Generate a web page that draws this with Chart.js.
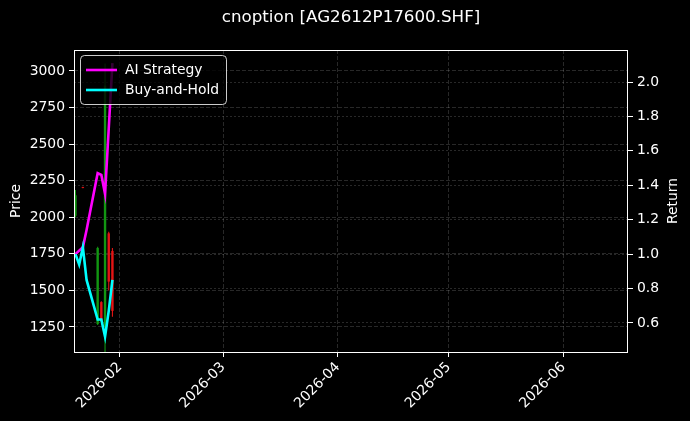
<!DOCTYPE html>
<html lang="en">
<head>
  <meta charset="UTF-8" />
  <title>cnoption [AG2612P17600.SHF]</title>
  <script src="https://cdn.jsdelivr.net/npm/chart.js"></script>
  <style>
    html, body { margin: 0; padding: 0; background: #000; }
    #chart { display: block; }
  </style>
</head>
<body>
  <canvas id="chart" width="690" height="421"></canvas>

  <script>
    // x values are day-of-year 2026 (Jan 1 = 1)
    const tradeDays  = [20, 21, 22, 23, 26, 27, 28, 29, 30];
    const aiStrategy = [1.00, 1.02, 1.04, 1.14, 1.47, 1.46, 1.35, 1.73, 2.11];
    const buyHold    = [1.00, 0.94, 1.04, 0.85, 0.62, 0.62, 0.52, 0.67, 0.85];

    const candleDays  = [20, 22, 26, 27, 28, 29, 30];
    const candleOpen  = [2010, 2206, 1270, 1420, 1250, 1890, 1770];
    const candleHigh  = [2186, 2208, 1798, 1425, 3050, 1900, 1790];
    const candleLow   = [2000, 2198, 1264, 1284, 1050, 1500, 1320];
    const candleClose = [2150, 2200, 1790, 1290, 2900, 1560, 1360];

    const monthTicks  = [32, 60, 91, 121, 152];
    const monthLabels = ['2026-02', '2026-03', '2026-04', '2026-05', '2026-06'];
    const priceTicks  = [1250, 1500, 1750, 2000, 2250, 2500, 2750, 3000];
    const returnTicks = [0.6, 0.8, 1.0, 1.2, 1.4, 1.6, 1.8, 2.0];

    const UP = '#129612', DOWN = '#e41414';
    const candleColors = candleDays.map((_, i) => candleClose[i] >= candleOpen[i] ? UP : DOWN);

    Chart.defaults.font.family = '"DejaVu Sans", sans-serif';
    Chart.defaults.font.size = 13.9;
    Chart.defaults.color = '#fff';

    const grid = {
      color: 'rgba(255,255,255,0.2)', lineWidth: 0.8, offset: false,
      tickColor: '#fff', tickLength: 5, tickWidth: 1
    };

    // title, right-axis label, frame and legend drawn like the original
    const decorations = {
      id: 'decorations',
      afterDraw(chart) {
        const ctx = chart.ctx, a = chart.chartArea;
        ctx.save();
        ctx.fillStyle = '#fff';
        ctx.textAlign = 'center';
        ctx.textBaseline = 'middle';
        ctx.font = '16.7px "DejaVu Sans"';
        ctx.fillText('cnoption [AG2612P17600.SHF]', (a.left + a.right) / 2, 18);

        ctx.font = '13.9px "DejaVu Sans"';
        ctx.translate(673, (a.top + a.bottom) / 2);
        ctx.rotate(-Math.PI / 2);
        ctx.fillText('Return', 0, 0);
        ctx.restore();

        ctx.save();
        ctx.strokeStyle = '#fff';
        ctx.lineWidth = 1;
        ctx.strokeRect(Math.round(a.left) + 0.5, Math.round(a.top) + 0.5,
          Math.round(a.right - a.left) - 1, Math.round(a.bottom - a.top));

        const x = a.left + 6, y = a.top + 5, w = 146, h = 49, r = 4;
        ctx.beginPath();
        ctx.roundRect(x + 0.5, y + 0.5, w, h, r);
        ctx.fillStyle = 'rgba(0,0,0,0.8)';
        ctx.fill();
        ctx.strokeStyle = 'rgba(255,255,255,0.8)';
        ctx.stroke();

        const items = [['AI Strategy', '#ff00ff'], ['Buy-and-Hold', '#00ffff']];
        ctx.font = '13.9px "DejaVu Sans"';
        ctx.textBaseline = 'middle';
        items.forEach(([label, color], i) => {
          const ly = y + 15 + i * 20;
          ctx.beginPath();
          ctx.moveTo(x + 6, ly);
          ctx.lineTo(x + 37, ly);
          ctx.strokeStyle = color;
          ctx.lineWidth = 2.6;
          ctx.stroke();
          ctx.fillStyle = '#fff';
          ctx.fillText(label, x + 45, ly);
        });
        ctx.restore();
      }
    };

    new Chart(document.getElementById('chart'), {
      type: 'line',
      data: {
        datasets: [
          {
            type: 'line', label: 'Buy-and-Hold', yAxisID: 'yRet', order: 0,
            data: tradeDays.map((d, i) => ({ x: d, y: buyHold[i] })),
            borderColor: '#00ffff', borderWidth: 2.6, pointRadius: 0, tension: 0
          },
          {
            type: 'line', label: 'AI Strategy', yAxisID: 'yRet', order: 1,
            data: tradeDays.map((d, i) => ({ x: d, y: aiStrategy[i] })),
            borderColor: '#ff00ff', borderWidth: 2.6, pointRadius: 0, tension: 0
          },
          {
            type: 'bar', label: 'body', yAxisID: 'yPrice', order: 2, grouped: false,
            data: candleDays.map((d, i) => ({ x: d, y: [candleOpen[i], candleClose[i]] })),
            backgroundColor: candleColors, borderWidth: 0, maxBarThickness: 2.4
          },
          {
            type: 'bar', label: 'wick', yAxisID: 'yPrice', order: 3, grouped: false,
            data: candleDays.map((d, i) => ({ x: d, y: [candleLow[i], candleHigh[i]] })),
            backgroundColor: candleColors, borderWidth: 0, maxBarThickness: 1.1
          }
        ]
      },
      options: {
        responsive: false,
        animation: false,
        layout: { padding: { top: 50 } },
        plugins: {
          legend: { display: false },
          tooltip: { enabled: false }
        },
        scales: {
          x: {
            type: 'linear', min: 19.6, max: 169.5, offset: false,
            afterBuildTicks: s => { s.ticks = monthTicks.map(v => ({ value: v })); },
            afterFit: s => { s.height = 69; },
            ticks: {
              autoSkip: false, minRotation: 45, maxRotation: 45, padding: 2,
              callback: (v, i) => monthLabels[i]
            },
            grid: grid,
            border: { display: false, dash: [4, 2] }
          },
          yPrice: {
            type: 'linear', position: 'left', min: 1079, max: 3143,
            afterBuildTicks: s => { s.ticks = priceTicks.map(v => ({ value: v })); },
            afterFit: s => { s.width = 74; },
            ticks: { padding: 4, callback: v => String(v) },
            title: { display: true, text: 'Price', padding: { top: 8, bottom: 0 } },
            grid: grid,
            border: { display: false, dash: [4, 2] }
          },
          yRet: {
            type: 'linear', position: 'right', min: 0.431, max: 2.186,
            afterBuildTicks: s => { s.ticks = returnTicks.map(v => ({ value: v })); },
            afterFit: s => { s.width = 62; },
            ticks: { padding: 4, callback: v => v.toFixed(1) },
            grid: grid,
            border: { display: false, dash: [2, 2] }
          }
        }
      },
      plugins: [decorations]
    });
  </script>
</body>
</html>
